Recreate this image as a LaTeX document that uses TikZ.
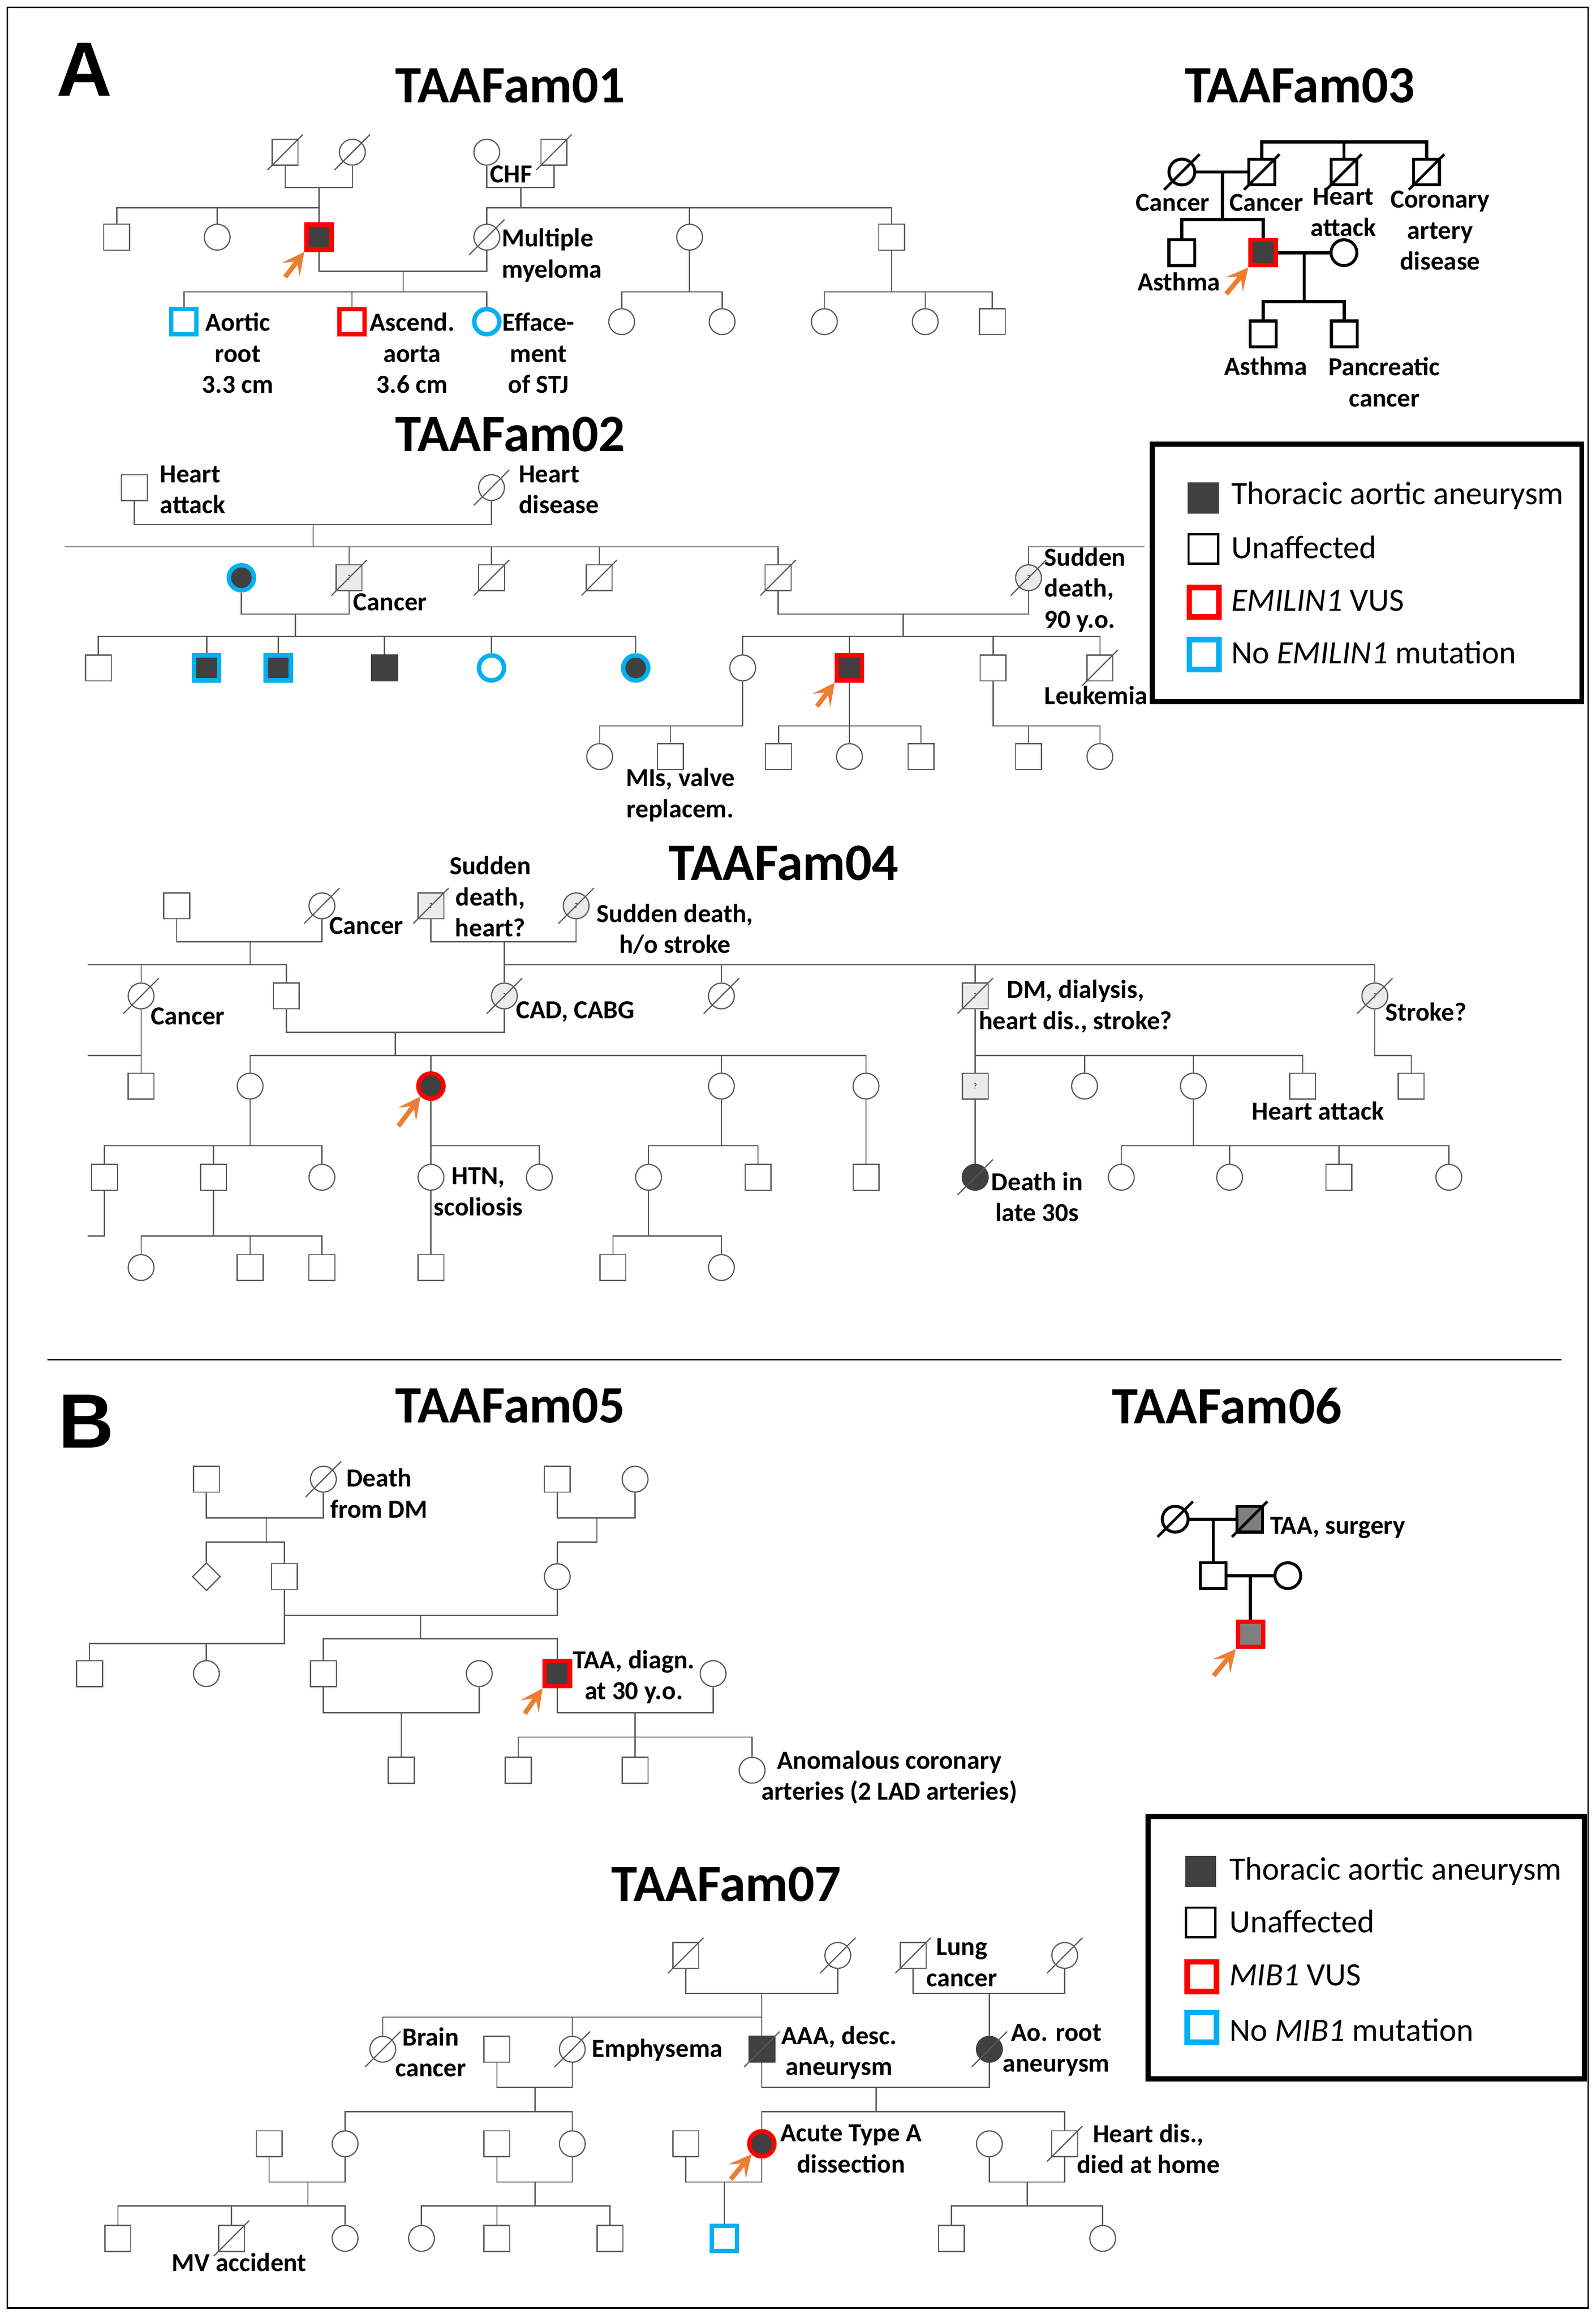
\documentclass[tikz,border=0pt]{standalone}
\usepackage{fontspec}
\setmainfont{Carlito}
\newfontfamily\panelfont{Liberation Sans}
\usetikzlibrary{arrows.meta,shapes.geometric}
\definecolor{lc}{HTML}{595959}
\definecolor{tafill}{HTML}{404040}
\definecolor{vred}{HTML}{FF0000}
\definecolor{nblue}{HTML}{00B0F0}
\definecolor{porange}{HTML}{ED7D31}
\definecolor{qfill}{HTML}{EBEBEB}
\definecolor{midfill}{HTML}{7F7F7F}
\newcommand\pkid[3][ln]{\draw[#1] (#3 |- #2) -- (#3);}
\newcommand\dslash[2][]{\draw[draw=lc, line width=0.8pt, #1] ([shift={(-12,12)}]#2.center) -- ([shift={(12,-12)}]#2.center);}
\begin{document}
\begin{tikzpicture}[x=1pt,y=-1pt,
  ln/.style={draw=lc, line width=0.8pt},
  bln/.style={draw=black, line width=2.2pt},
  sym/.style={draw=lc, line width=0.8pt, fill=white, inner sep=0pt, minimum size=17.5pt},
  sq/.style={sym, rectangle},
  ci/.style={sym, circle},
  bsq/.style={sq, draw=black, line width=2pt},
  bci/.style={ci, draw=black, line width=2pt},
  aff/.style={fill=tafill, draw=tafill},
  vus/.style={draw=vred, line width=3pt, minimum size=17pt},
  nom/.style={draw=nblue, line width=3pt, minimum size=17pt},
  qm/.style={fill=qfill, font=\fontsize{5}{5}\selectfont},
  dia/.style={sym, diamond, minimum size=19pt, aspect=1},
  lbl/.style={font=\fontsize{17.6}{21}\selectfont\bfseries, inner sep=0pt, align=center},
  lbw/.style={lbl, align=left, anchor=west},
  ttl/.style={font=\fontsize{35.5}{40}\selectfont\bfseries, inner sep=0pt},
  pan/.style={font=\panelfont\fontsize{52}{60}\selectfont\bfseries, inner sep=0pt},
  leg/.style={font=\fontsize{22}{25}\selectfont, anchor=base west, inner sep=0pt},
  legbox/.style={draw=black, line width=3.5pt},
  lgaff/.style={rectangle, fill=tafill, minimum size=21pt, inner sep=0pt},
  lgun/.style={rectangle, draw=black, line width=1.5pt, minimum size=20pt, inner sep=0pt},
  lgred/.style={rectangle, draw=vred, line width=3.8pt, minimum size=20pt, inner sep=0pt},
  lgblue/.style={rectangle, draw=nblue, line width=3.8pt, minimum size=20pt, inner sep=0pt},
  parrow/.style={draw=porange, line width=3.2pt, -{Stealth[length=15pt,width=15pt,inset=7pt]}},
]
\useasboundingbox (0,0) rectangle (1080,1568.7);
\fill[white] (0,0) rectangle (1080,1568.7);
\draw[black, line width=1.2pt] (5,5) rectangle (1075,1562);
\draw[black, line width=1pt] (32,920) -- (1057,920);
\node[pan] (pA) at (57,47) {A};
\node[pan] (pB) at (58.4,961.8) {B};

% ================= TAAFam01
\node[ttl] (t1) at (345.5,58) {TAAFam01};
\node[sq] (f1gf1) at (193,103) {};
\node[ci] (f1gm1) at (238.5,103) {};
\node[ci] (f1gm2) at (329.5,103) {};
\node[sq] (f1gf2) at (375,103) {};
\dslash{f1gf1}\dslash{f1gm1}\dslash{f1gf2}
\node[sq] (f1c1) at (79,160.5) {};
\node[ci] (f1c2) at (147,160.5) {};
\node[sq,aff,vus] (f1p) at (216,160.5) {};
\node[ci] (f1mm) at (329.5,160.5) {};
\node[ci] (f1c5) at (466.8,160.5) {};
\node[sq] (f1c6) at (603.5,160.5) {};
\dslash{f1mm}
\node[sq,nom] (f1k1) at (124.5,217.7) {};
\node[sq,vus] (f1k2) at (238.3,217.7) {};
\node[ci,nom] (f1k3) at (329.5,217.7) {};
\node[ci] (f1k4) at (420.8,217.7) {};
\node[ci] (f1k5) at (488.8,217.7) {};
\node[ci] (f1k6) at (558,217.7) {};
\node[ci] (f1k7) at (626.3,217.7) {};
\node[sq] (f1k8) at (671.7,217.7) {};
\coordinate (f1m1) at (216,127);
\coordinate (f1s1) at (216,140.6);
\coordinate (f1m2) at (352.5,127);
\coordinate (f1s2) at (352.5,140.6);
\coordinate (f1m3) at (272.9,183.5);
\coordinate (f1s3) at (272.9,197.5);
\coordinate (f1s4) at (466.8,197.5);
\coordinate (f1s5) at (603.5,197.5);
\draw[ln] (f1gf1) |- (f1m1) -| (f1gm1);
\draw[ln] (f1m1) -- (f1p);
\draw[ln] (f1c1) |- (f1s1);
\pkid{f1s1}{f1c2}
\draw[ln] (f1gm2) |- (f1m2) -| (f1gf2);
\draw[ln] (f1m2) -- (f1s2);
\draw[ln] (f1mm) |- (f1s2) -| (f1c6);
\pkid{f1s2}{f1c5}
\draw[ln] (f1p) |- (f1m3) -| (f1mm);
\draw[ln] (f1m3) -- (f1s3);
\draw[ln] (f1k1) |- (f1s3) -| (f1k3);
\pkid{f1s3}{f1k2}
\draw[ln] (f1c5) -- (f1s4);
\draw[ln] (f1k4) |- (f1s4) -| (f1k5);
\draw[ln] (f1c6) -- (f1s5);
\draw[ln] (f1k6) |- (f1s5) -| (f1k8);
\pkid{f1s5}{f1k7}
\draw[parrow] ([shift={(-13,17)}]f1p.south west) -- (f1p.south west);
\node[lbl] (f1l1) at (346,118) {CHF};
\node[lbw] (f1l2) at (339.5,172.7) {Multiple\\myeloma};
\node[lbl] (f1l3) at (161,239) {Aortic\\root\\3.3 cm};
\node[lbl] (f1l4) at (279,239) {Ascend.\\aorta\\3.6 cm};
\node[lbl] (f1l5) at (364.5,239) {Efface-\\ment\\of STJ};

% ================= TAAFam03
\node[ttl] (t3) at (880,58) {TAAFam03};
\node[bci] (f3gm) at (800,116.4) {};
\node[bsq] (f3gf) at (854.1,116.4) {};
\node[bsq] (f3u1) at (909.7,116.4) {};
\node[bsq] (f3u2) at (965.6,116.4) {};
\dslash[draw=black,line width=1.8pt]{f3gm}
\dslash[draw=black,line width=1.8pt]{f3gf}
\dslash[draw=black,line width=1.8pt]{f3u1}
\dslash[draw=black,line width=1.8pt]{f3u2}
\coordinate (f3t) at (909.7,95.9);
\draw[bln] (f3gf) |- (f3t) -| (f3u2);
\draw[bln] (f3t) -- (f3u1);
\coordinate (f3m1) at (827.5,116.4);
\coordinate (f3s1) at (827.5,148.6);
\draw[bln] (f3gm) -- (f3gf);
\draw[bln] (f3m1) -- (f3s1);
\node[bsq] (f3a) at (800,171) {};
\node[bsq,aff,vus] (f3p) at (855,171) {};
\node[bci] (f3w) at (909.7,171) {};
\draw[bln] (f3a) |- (f3s1) -| (f3p);
\draw[bln] (f3p) -- (f3w);
\coordinate (f3m2) at (882.8,171);
\coordinate (f3s2) at (882.8,204.2);
\draw[bln] (f3m2) -- (f3s2);
\node[bsq] (f3k1) at (855,226) {};
\node[bsq] (f3k2) at (910,226) {};
\draw[bln] (f3k1) |- (f3s2) -| (f3k2);
\draw[parrow] ([shift={(-15,18)}]f3p.south west) -- (f3p.south west);
\node[lbl] (f3l1) at (793.8,137.3) {Cancer};
\node[lbl] (f3l2) at (857.2,137.3) {Cancer};
\node[lbl] (f3l3) at (909.3,143.6) {Heart\\attack};
\node[lbl] (f3l4) at (974.8,156) {Coronary\\artery\\disease};
\node[lbl] (f3l5) at (798,190.5) {Asthma};
\node[lbl] (f3l6) at (856.8,247.6) {Asthma};
\node[lbl] (f3l7) at (937,258.6) {Pancreatic\\cancer};

% ================= TAAFam02
\node[ttl] (t2) at (345.5,294) {TAAFam02};
\node[sq] (f2gf) at (90.9,330) {};
\node[ci] (f2gm) at (332.7,330) {};
\dslash{f2gm}
\coordinate (f2m1) at (212,355);
\coordinate (f2s1) at (212,370.1);
\coordinate (f2x1) at (43.8,370.1);
\draw[ln] (f2gf) |- (f2m1) -| (f2gm);
\draw[ln] (f2m1) -- (f2s1);
\node[ci,aff,nom] (f2sp) at (163.4,391) {};
\node[sq,qm] (f2u1) at (236.3,391) {?};
\node[sq] (f2u2) at (332.7,391) {};
\node[sq] (f2u3) at (405.6,391) {};
\node[sq] (f2u5) at (526.7,391) {};
\node[ci,qm] (f2sd) at (696.2,391) {?};
\dslash{f2u1}\dslash{f2u2}\dslash{f2u3}\dslash{f2u5}\dslash{f2sd}
\draw[ln] (f2x1) -| (f2u5);
\pkid{f2s1}{f2u1}\pkid{f2s1}{f2u2}\pkid{f2s1}{f2u3}
\coordinate (f2x2) at (774.7,370.1);
\draw[ln] (f2sd) |- (f2x2);
\coordinate (f2m2) at (199.9,415.5);
\coordinate (f2s2) at (199.9,430.7);
\draw[ln] (f2sp) |- (f2m2) -| (f2u1);
\draw[ln] (f2m2) -- (f2s2);
\node[sq] (f2a1) at (66.6,452) {};
\node[sq,aff,nom] (f2a2) at (139.9,452) {};
\node[sq,aff,nom] (f2a3) at (188.4,452) {};
\node[sq,aff] (f2a4) at (260.2,452) {};
\node[ci,nom] (f2a5) at (332.7,452) {};
\node[ci,aff,nom] (f2a6) at (430.3,452) {};
\draw[ln] (f2a1) |- (f2s2) -| (f2a6);
\pkid{f2s2}{f2a2}\pkid{f2s2}{f2a3}\pkid{f2s2}{f2a4}\pkid{f2s2}{f2a5}
\coordinate (f2m3) at (611.4,415.5);
\coordinate (f2s3) at (611.4,430.7);
\draw[ln] (f2u5) |- (f2m3) -| (f2sd);
\draw[ln] (f2m3) -- (f2s3);
\node[ci] (f2b1) at (502.7,452) {};
\node[sq,aff,vus] (f2p) at (575,452) {};
\node[sq] (f2b3) at (672.2,452) {};
\node[sq] (f2b4) at (744.5,452) {};
\dslash{f2b4}
\draw[ln] (f2b1) |- (f2s3) -| (f2b4);
\pkid{f2s3}{f2p}\pkid{f2s3}{f2b3}
\coordinate (f2s4) at (502.7,491.2);
\node[ci] (f2c1) at (405.9,512) {};
\node[sq] (f2c2) at (453.8,512) {};
\draw[ln] (f2b1) -- (f2s4) -| (f2c1);
\pkid{f2s4}{f2c2}
\coordinate (f2s5) at (575,491.2);
\node[sq] (f2d1) at (527,512) {};
\node[ci] (f2d2) at (575,512) {};
\node[sq] (f2d3) at (623.4,512) {};
\draw[ln] (f2p) -- (f2d2);
\draw[ln] (f2d1) |- (f2s5) -| (f2d3);
\coordinate (f2s6) at (672.2,491.2);
\node[sq] (f2g1) at (696.2,512) {};
\node[ci] (f2g2) at (744.5,512) {};
\draw[ln] (f2b3) -- (f2s6) -| (f2g2);
\pkid{f2s6}{f2g1}
\draw[parrow] ([shift={(-12,16)}]f2p.south west) -- (f2p.south west);
\node[lbw] (f2l1) at (108,331.3) {Heart\\attack};
\node[lbw] (f2l2) at (351,331.3) {Heart\\disease};
\node[lbw] (f2l3) at (238.9,407.5) {Cancer};
\node[lbw] (f2l4) at (706.8,399.2) {Sudden\\death,\\90 y.o.};
\node[lbw] (f2l5) at (706.8,470.5) {Leukemia};
\node[lbl] (f2l6) at (460.5,538) {MIs, valve\\replacem.};

% legend A
\draw[legbox] (780,300.6) rectangle (1070.7,474.6);
\node[lgaff] (la1) at (814.5,337) {};
\node[lgun] (la2) at (814.5,371.5) {};
\node[lgred] (la3) at (815,407.5) {};
\node[lgblue] (la4) at (815,443) {};
\node[leg] (lat1) at (833.3,341.5) {Thoracic aortic aneurysm};
\node[leg] (lat2) at (833.3,378) {Unaffected};
\node[leg] (lat3) at (833.3,413.6) {\textit{EMILIN1} VUS};
\node[leg] (lat4) at (833.3,449.2) {No \textit{EMILIN1} mutation};

% ================= TAAFam04
\node[ttl] (t4) at (530.5,584) {TAAFam04};
\node[sq] (f4a1) at (119.6,613) {};
\node[ci] (f4a2) at (217.9,613) {};
\node[sq,qm] (f4a3) at (291.7,613) {?};
\node[ci,qm] (f4a4) at (390,613) {?};
\dslash{f4a2}\dslash{f4a3}\dslash{f4a4}
\coordinate (f4m1) at (169.3,637.3);
\coordinate (f4s1) at (169.3,652.9);
\coordinate (f4m2) at (341.4,637.3);
\coordinate (f4s2) at (341.4,652.9);
\coordinate (f4x1) at (59.2,652.9);
\draw[ln] (f4a1) |- (f4m1) -| (f4a2);
\draw[ln] (f4m1) -- (f4s1);
\draw[ln] (f4a3) |- (f4m2) -| (f4a4);
\node[ci] (f4b1) at (95.5,674) {};
\node[sq] (f4b2) at (193.8,674) {};
\node[ci,qm] (f4b3) at (341.4,674) {?};
\node[ci] (f4b4) at (488.3,674) {};
\node[sq,qm] (f4b5) at (660.1,674) {?};
\node[ci,qm] (f4b6) at (930.6,674) {?};
\dslash{f4b1}\dslash{f4b3}\dslash{f4b4}\dslash{f4b5}\dslash{f4b6}
\draw[ln] (f4x1) -| (f4b2);
\pkid{f4s1}{f4b1}
\draw[ln] (f4m2) -- (f4b3);
\draw[ln] (f4s2) -| (f4b6);
\pkid{f4s2}{f4b4}\pkid{f4s2}{f4b5}
\node[sq] (f4c0) at (95.5,735) {};
\coordinate (f4x2) at (59.2,714.2);
\draw[ln] (f4b1) -- (f4c0);
\draw[ln] (f4x2) -- (f4b1 |- f4x2);
\coordinate (f4m3) at (267.6,698.6);
\coordinate (f4s3) at (267.6,714.2);
\draw[ln] (f4b2) |- (f4m3) -| (f4b3);
\draw[ln] (f4m3) -- (f4s3);
\node[ci] (f4c1) at (169.3,735) {};
\node[ci,aff,vus] (f4p) at (291.7,735) {};
\node[ci] (f4c3) at (488.3,735) {};
\node[ci] (f4c4) at (586.2,735) {};
\draw[ln] (f4c1) |- (f4s3) -| (f4c4);
\pkid{f4s3}{f4p}\pkid{f4s3}{f4c3}
\node[sq,qm] (f4d1) at (660.1,735) {?};
\node[ci] (f4d2) at (734.1,735) {};
\node[ci] (f4d3) at (807.8,735) {};
\node[sq] (f4d4) at (881.8,735) {};
\node[sq] (f4d5) at (955.2,735) {};
\coordinate (f4s4) at (660.1,714.2);
\draw[ln] (f4b5) -- (f4d1);
\draw[ln] (f4s4) -| (f4d4);
\pkid{f4s4}{f4d2}\pkid{f4s4}{f4d3}
\coordinate (f4s5) at (930.6,714.2);
\draw[ln] (f4b6) -- (f4s5) -| (f4d5);
\node[sq] (f4e1) at (70.7,796.7) {};
\node[sq] (f4e2) at (144.5,796.7) {};
\node[ci] (f4e3) at (217.9,796.7) {};
\coordinate (f4s6) at (169.3,775.4);
\draw[ln] (f4c1) -- (f4s6);
\draw[ln] (f4e1) |- (f4s6) -| (f4e3);
\pkid{f4s6}{f4e2}
\node[ci] (f4h1) at (291.7,796.7) {};
\node[ci] (f4h2) at (365.1,796.7) {};
\coordinate (f4s7) at (291.7,775.4);
\draw[ln] (f4p) -- (f4h1);
\draw[ln] (f4s7) -| (f4h2);
\node[ci] (f4i1) at (439,796.7) {};
\node[sq] (f4i2) at (513.1,796.7) {};
\coordinate (f4s8) at (488.3,775.4);
\draw[ln] (f4c3) -- (f4s8);
\draw[ln] (f4i1) |- (f4s8) -| (f4i2);
\node[sq] (f4j1) at (586.2,796.7) {};
\draw[ln] (f4c4) -- (f4j1);
\node[ci,aff] (f4k1) at (660.1,796.7) {};
\dslash{f4k1}
\draw[ln] (f4d1) -- (f4k1);
\node[ci] (f4l1) at (759,796.7) {};
\node[ci] (f4l2) at (832.3,796.7) {};
\node[sq] (f4l3) at (906.3,796.7) {};
\node[ci] (f4l4) at (980.7,796.7) {};
\coordinate (f4s9) at (807.8,775.4);
\draw[ln] (f4d3) -- (f4s9);
\draw[ln] (f4l1) |- (f4s9) -| (f4l4);
\pkid{f4s9}{f4l2}\pkid{f4s9}{f4l3}
\coordinate (f4x3) at (59.2,836.5);
\draw[ln] (f4e1) |- (f4x3);
\node[ci] (f4n1) at (95.5,857.8) {};
\node[sq] (f4n2) at (169.3,857.8) {};
\node[sq] (f4n3) at (217.9,857.8) {};
\coordinate (f4s10) at (144.5,836.5);
\draw[ln] (f4e2) -- (f4s10);
\draw[ln] (f4n1) |- (f4s10) -| (f4n3);
\pkid{f4s10}{f4n2}
\node[sq] (f4o1) at (291.7,857.8) {};
\draw[ln] (f4h1) -- (f4o1);
\node[sq] (f4q1) at (414.9,857.8) {};
\node[ci] (f4q2) at (488.3,857.8) {};
\coordinate (f4s11) at (439,836.5);
\draw[ln] (f4i1) -- (f4s11);
\draw[ln] (f4q1) |- (f4s11) -| (f4q2);
\draw[parrow] ([shift={(-15,20)}]f4p.south west) -- (f4p.south west);
\node[lbw] (f4t1) at (222.9,626.4) {Cancer};
\node[lbl] (f4t2) at (331.9,606.7) {Sudden\\death,\\heart?};
\node[lbl] (f4t3) at (456.9,628.8) {Sudden death,\\h/o stroke};
\node[lbw] (f4t4) at (102,687.6) {Cancer};
\node[lbw] (f4t5) at (349.1,684.6) {CAD, CABG};
\node[lbl] (f4t6) at (728,681) {DM, dialysis,\\heart dis., stroke?};
\node[lbw] (f4t7) at (937.6,684.6) {Stroke?};
\node[lbl] (f4t8) at (892.1,751.7) {Heart attack};
\node[lbl] (f4t9) at (323.7,806.5) {HTN,\\scoliosis};
\node[lbl] (f4t10) at (702,810) {Death in\\late 30s};

% ================= TAAFam05
\node[ttl] (t5) at (345.5,951.2) {TAAFam05};
\node[sq] (f5a1) at (139.7,1001) {};
\node[ci] (f5a2) at (218.9,1001) {};
\node[sq] (f5a3) at (377.2,1001) {};
\node[ci] (f5a4) at (429.9,1001) {};
\dslash{f5a2}
\coordinate (f5m1) at (180.2,1027.3);
\coordinate (f5s1) at (180.2,1043.6);
\coordinate (f5m2) at (404,1027.3);
\coordinate (f5s2) at (404,1043.6);
\draw[ln] (f5a1) |- (f5m1) -| (f5a2);
\draw[ln] (f5m1) -- (f5s1);
\draw[ln] (f5a3) |- (f5m2) -| (f5a4);
\node[dia] (f5b1) at (139.7,1067) {};
\node[sq] (f5b2) at (192.5,1067) {};
\node[ci] (f5b3) at (377.2,1067) {};
\draw[ln] (f5b1) |- (f5s1) -| (f5b2);
\draw[ln] (f5m2) -- (f5s2) -| (f5b3);
\coordinate (f5m3) at (284.8,1093.1);
\coordinate (f5s3) at (284.8,1109);
\draw[ln] (f5b2) |- (f5m3) -| (f5b3);
\draw[ln] (f5m3) -- (f5s3);
\coordinate (f5x1) at (192.5,1112.2);
\node[sq] (f5c1) at (60.6,1132.6) {};
\node[ci] (f5c2) at (139.7,1132.6) {};
\draw[ln] (f5b2) -- (f5x1) -| (f5c1);
\pkid{f5x1}{f5c2}
\node[sq] (f5c3) at (218.9,1132.6) {};
\node[ci] (f5c4) at (324.4,1132.6) {};
\node[sq,aff,vus] (f5p) at (377.2,1132.6) {};
\node[ci] (f5c5) at (482.7,1132.6) {};
\draw[ln] (f5c3) |- (f5s3) -| (f5p);
\coordinate (f5m4) at (271.6,1159.1);
\draw[ln] (f5c3) |- (f5m4) -| (f5c4);
\node[sq] (f5d1) at (271.6,1198) {};
\draw[ln] (f5m4) -- (f5d1);
\coordinate (f5m5) at (429.9,1159.1);
\coordinate (f5s5) at (429.9,1175.5);
\draw[ln] (f5p) |- (f5m5) -| (f5c5);
\draw[ln] (f5m5) -- (f5s5);
\node[sq] (f5d2) at (350.8,1198) {};
\node[sq] (f5d3) at (429.9,1198) {};
\node[ci] (f5d4) at (509.1,1198) {};
\draw[ln] (f5d2) |- (f5s5) -| (f5d4);
\pkid{f5s5}{f5d3}
\draw[parrow] ([shift={(-12,17)}]f5p.south west) -- (f5p.south west);
\node[lbl] (f5l1) at (256.5,1010.5) {Death\\from DM};
\node[lbl] (f5l2) at (429,1134.8) {TAA, diagn.\\at 30 y.o.};
\node[lbl] (f5l3) at (602,1202.7) {Anomalous coronary\\arteries (2 LAD arteries)};

% ================= TAAFam06
\node[ttl] (t6) at (830.4,951.5) {TAAFam06};
\node[bci] (f6gm) at (795.5,1028.1) {};
\node[bsq,fill=midfill] (f6gf) at (845.9,1028.1) {};
\dslash[draw=black,line width=1.8pt]{f6gm}
\dslash[draw=black,line width=1.8pt]{f6gf}
\coordinate (f6m1) at (821.2,1028.1);
\draw[bln] (f6gm) -- (f6gf);
\node[bsq] (f6f) at (821.2,1066.3) {};
\draw[bln] (f6m1) -- (f6f);
\node[bci] (f6w) at (871.7,1066.3) {};
\draw[bln] (f6f) -- (f6w);
\coordinate (f6m2) at (846.5,1066.3);
\node[bsq,fill=midfill,vus] (f6p) at (846.5,1106) {};
\draw[bln] (f6m2) -- (f6p);
\draw[parrow] ([shift={(-15,18)}]f6p.south west) -- (f6p.south west);
\node[lbw] (f6l1) at (859.5,1034) {TAA, surgery};

% legend B
\draw[legbox] (777.2,1229.3) rectangle (1072.4,1407);
\node[lgaff] (lb1) at (812.7,1266.4) {};
\node[lgun] (lb2) at (812.7,1301) {};
\node[lgred] (lb3) at (813.5,1337.7) {};
\node[lgblue] (lb4) at (813.5,1372) {};
\node[leg] (lbt1) at (832,1272.1) {Thoracic aortic aneurysm};
\node[leg] (lbt2) at (832,1307.9) {Unaffected};
\node[leg] (lbt3) at (832,1343.8) {\textit{MIB1} VUS};
\node[leg] (lbt4) at (832,1381.2) {No \textit{MIB1} mutation};

% ================= TAAFam07
\node[ttl] (t7) at (491.7,1275.2) {TAAFam07};
\node[sq] (f7a1) at (464.2,1323.3) {};
\node[ci] (f7a2) at (567.1,1323.3) {};
\node[sq] (f7a3) at (618.1,1323.3) {};
\node[ci] (f7a4) at (720.7,1323.3) {};
\dslash{f7a1}\dslash{f7a2}\dslash{f7a3}\dslash{f7a4}
\coordinate (f7m1) at (515.7,1349);
\coordinate (f7s1) at (515.7,1365);
\coordinate (f7m2) at (669.7,1349);
\draw[ln] (f7a1) |- (f7m1) -| (f7a2);
\draw[ln] (f7a3) |- (f7m2) -| (f7a4);
\node[ci] (f7b1) at (259.1,1386.8) {};
\node[sq] (f7bs) at (336.3,1386.8) {};
\node[ci] (f7b2) at (387.4,1386.8) {};
\node[sq,aff] (f7b3) at (515.7,1386.8) {};
\node[ci,aff] (f7b4) at (669.7,1386.8) {};
\dslash{f7b1}\dslash{f7b2}\dslash{f7b3}\dslash{f7b4}
\draw[ln] (f7m1) -- (f7b3);
\draw[ln] (f7b1) |- (f7s1);
\pkid{f7s1}{f7b2}
\draw[ln] (f7m2) -- (f7b4);
\coordinate (f7m3) at (362.2,1412.7);
\coordinate (f7s3) at (362.2,1429);
\draw[ln] (f7bs) |- (f7m3) -| (f7b2);
\draw[ln] (f7m3) -- (f7s3);
\coordinate (f7m4) at (593,1412.7);
\coordinate (f7s4) at (593,1429);
\draw[ln] (f7b3) |- (f7m4) -| (f7b4);
\draw[ln] (f7m4) -- (f7s4);
\node[sq] (f7c1) at (182.2,1450.8) {};
\node[ci] (f7c2) at (233.6,1450.8) {};
\node[sq] (f7c3) at (336.3,1450.8) {};
\node[ci] (f7c4) at (387.4,1450.8) {};
\node[sq] (f7c5) at (464.2,1450.8) {};
\node[ci,aff,vus] (f7p) at (515.7,1450.8) {};
\node[ci] (f7c7) at (669.7,1450.8) {};
\node[sq] (f7c8) at (720.7,1450.8) {};
\dslash{f7c8}
\draw[ln] (f7c2) |- (f7s3) -| (f7c4);
\draw[ln] (f7p) |- (f7s4) -| (f7c8);
\coordinate (f7m5) at (208.4,1476.6);
\coordinate (f7s5) at (208.4,1492.8);
\draw[ln] (f7c1) |- (f7m5) -| (f7c2);
\draw[ln] (f7m5) -- (f7s5);
\node[sq] (f7d1) at (79.8,1514.8) {};
\node[sq] (f7d2) at (156.7,1514.8) {};
\node[ci] (f7d3) at (233.6,1514.8) {};
\dslash{f7d2}
\draw[ln] (f7d1) |- (f7s5) -| (f7d3);
\pkid{f7s5}{f7d2}
\coordinate (f7m6) at (362.2,1476.6);
\coordinate (f7s6) at (362.2,1492.8);
\draw[ln] (f7c3) |- (f7m6) -| (f7c4);
\draw[ln] (f7m6) -- (f7s6);
\node[ci] (f7d4) at (285.3,1514.8) {};
\node[sq] (f7d5) at (336.3,1514.8) {};
\node[sq] (f7d6) at (412.9,1514.8) {};
\draw[ln] (f7d4) |- (f7s6) -| (f7d6);
\pkid{f7s6}{f7d5}
\coordinate (f7m7) at (490.3,1476.6);
\draw[ln] (f7c5) |- (f7m7) -| (f7p);
\node[sq,nom] (f7d7) at (490.3,1514.8) {};
\draw[ln] (f7m7) -- (f7d7);
\coordinate (f7m8) at (695.3,1476.6);
\coordinate (f7s8) at (695.3,1492.8);
\draw[ln] (f7c7) |- (f7m8) -| (f7c8);
\draw[ln] (f7m8) -- (f7s8);
\node[sq] (f7d8) at (644,1514.8) {};
\node[ci] (f7d9) at (746.4,1514.8) {};
\draw[ln] (f7d8) |- (f7s8) -| (f7d9);
\draw[parrow] ([shift={(-14,17)}]f7p.south west) -- (f7p.south west);
\node[lbl] (f7l1) at (291.5,1388.7) {Brain\\cancer};
\node[lbw] (f7l2) at (400.5,1387.3) {Emphysema};
\node[lbl] (f7l3) at (568,1389.2) {AAA, desc.\\aneurysm};
\node[lbl] (f7l4) at (651,1328.2) {Lung\\cancer};
\node[lbl] (f7l5) at (715,1387.3) {Ao. root\\aneurysm};
\node[lbl] (f7l6) at (576,1454.2) {Acute Type A\\dissection};
\node[lbl] (f7l7) at (777.3,1454.2) {Heart dis.,\\died at home};
\node[lbl] (f7l8) at (161.8,1531.1) {MV accident};
\end{tikzpicture}
\end{document}
